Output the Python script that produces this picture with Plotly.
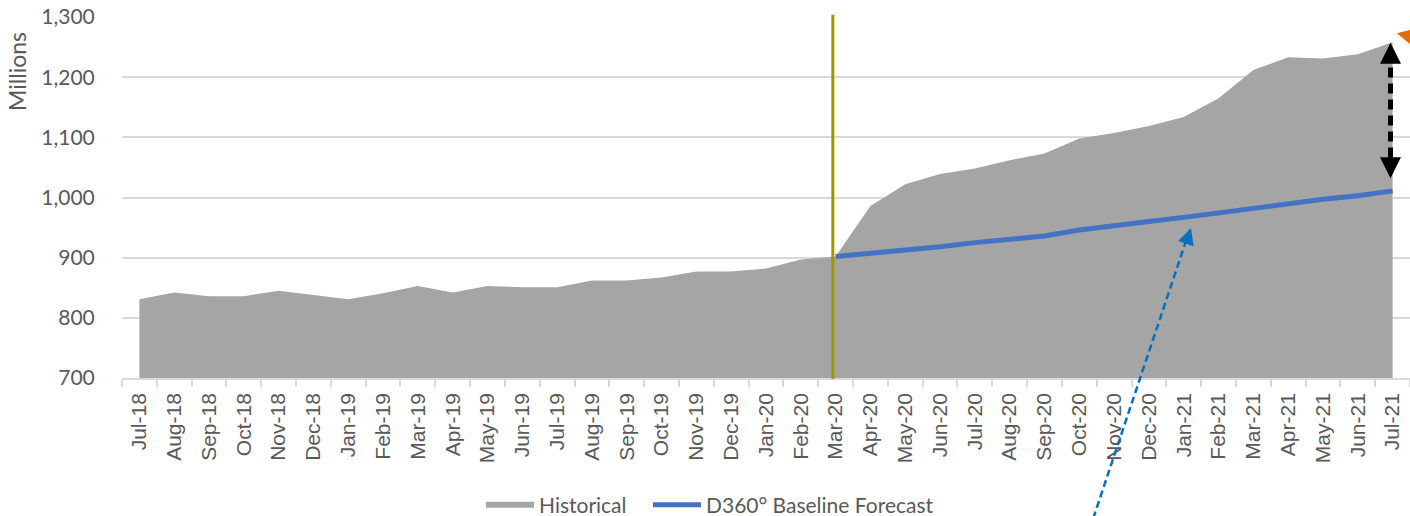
import plotly.graph_objects as go

# ---------------- data ----------------
months = ["Jul-18", "Aug-18", "Sep-18", "Oct-18", "Nov-18", "Dec-18",
          "Jan-19", "Feb-19", "Mar-19", "Apr-19", "May-19", "Jun-19",
          "Jul-19", "Aug-19", "Sep-19", "Oct-19", "Nov-19", "Dec-19",
          "Jan-20", "Feb-20", "Mar-20", "Apr-20", "May-20", "Jun-20",
          "Jul-20", "Aug-20", "Sep-20", "Oct-20", "Nov-20", "Dec-20",
          "Jan-21", "Feb-21", "Mar-21", "Apr-21", "May-21", "Jun-21",
          "Jul-21"]

historical = [831, 842, 836, 836, 845, 838,
              831, 841, 853, 842, 853, 851,
              851, 862, 862, 867, 877, 877,
              882, 897, 902, 986, 1022, 1039,
              1048, 1062, 1073, 1098, 1107, 1119,
              1134, 1165, 1212, 1233, 1231, 1238,
              1258]

forecast_months = months[20:]
forecast = [902, 907, 912, 918, 925, 931, 936, 946, 954, 960,
            967, 975, 982, 989, 997, 1003, 1011]

y_ticks = [700, 800, 900, 1000, 1100, 1200, 1300]
Y_MIN, Y_MAX = 700, 1300

TEXT = "#595959"
GRID = "#D9D9D9"


def ypaper(v):
    return (v - Y_MIN) / (Y_MAX - Y_MIN)


fig = go.Figure()
fig.add_trace(go.Scatter(
    x=months, y=historical, mode="none", fill="tozeroy",
    fillcolor="#A5A5A5", name="Historical", legend="legend"))
fig.add_trace(go.Scatter(
    x=forecast_months, y=forecast, mode="lines",
    line=dict(color="#4472C4", width=5), name="D360° Baseline Forecast",
    legend="legend2"))

n = len(months)
last = n - 1
split = months.index("Mar-20")

shapes = [
    # vertical marker at Mar-20
    dict(type="line", xref="x", yref="paper", x0=split - 0.08, x1=split - 0.08,
         y0=-0.003, y1=1.006, line=dict(color="#999900", width=3), layer="above"),
    # black dashed gap line
    dict(type="line", xref="x", yref="y", x0=last - 0.06, x1=last - 0.06,
         y0=1040, y1=1248, line=dict(color="black", width=5, dash="10px,6px"),
         layer="above"),
    # blue dashed pointer
    dict(type="line", xref="x", yref="paper", x0=27.1, x1=30.2,
         y0=ypaper(415), y1=ypaper(951),
         line=dict(color="#0070C0", width=2.5, dash="7px,4px"), layer="above"),
]

annotations = [
    dict(text="Millions", xref="paper", yref="paper", x=-0.0815, y=0.848,
         textangle=-90, showarrow=False, xanchor="center", yanchor="middle",
         font=dict(family="Lato", size=23, color=TEXT)),
    # black double arrow heads
    dict(x=last - 0.06, y=1257, xref="x", yref="y", text="", showarrow=True,
         ax=0, ay=16, arrowhead=2, arrowsize=1.2, arrowwidth=3.5,
         arrowcolor="black"),
    dict(x=last - 0.06, y=1032, xref="x", yref="y", text="", showarrow=True,
         ax=0, ay=-16, arrowhead=2, arrowsize=1.2, arrowwidth=3.5,
         arrowcolor="black"),
    # blue dashed pointer head
    dict(x=30.21, y=949, xref="x", yref="y", text="", showarrow=True,
         ax=-4, ay=12, arrowhead=2, arrowsize=1.3, arrowwidth=2.5,
         arrowcolor="#0070C0"),
    # orange arrow (cut off at right edge)
    dict(x=36.12, y=1273, xref="x", yref="y", text="", showarrow=True,
         ax=50, ay=3, arrowhead=2, arrowsize=1.4, arrowwidth=4.5,
         arrowcolor="#E36C09"),
]

legend_common = dict(orientation="h", xref="container", yref="container",
                     xanchor="left", y=0.021, yanchor="middle",
                     font=dict(family="Lato", size=21, color=TEXT),
                     itemwidth=48, bgcolor="rgba(0,0,0,0)")

fig.update_layout(
    width=1410, height=516,
    margin=dict(l=122, r=0, t=17, b=138),
    paper_bgcolor="white", plot_bgcolor="white",
    showlegend=True,
    legend=dict(legend_common, x=481 / 1410),
    legend2=dict(legend_common, x=648 / 1410),
    shapes=shapes,
    annotations=annotations,
    xaxis=dict(type="category", range=[-0.5, n - 0.5],
               showgrid=False, showline=True, linecolor=GRID, linewidth=1.5,
               ticks="outside", tickson="boundaries", ticklen=7,
               tickcolor=GRID, tickwidth=1.5, tickangle=-90,
               ticklabelstandoff=5,
               tickfont=dict(family="Liberation Sans", size=21, color=TEXT),
               zeroline=False),
    yaxis=dict(range=[Y_MIN, Y_MAX], tickvals=y_ticks, tickformat=",d",
               showgrid=True, gridcolor=GRID, gridwidth=1.5,
               showline=False, zeroline=False,
               ticks="outside", ticklen=22, tickcolor="rgba(0,0,0,0)",
               tickfont=dict(family="Lato", size=21, color=TEXT)),
)

fig.write_html("out.html")
